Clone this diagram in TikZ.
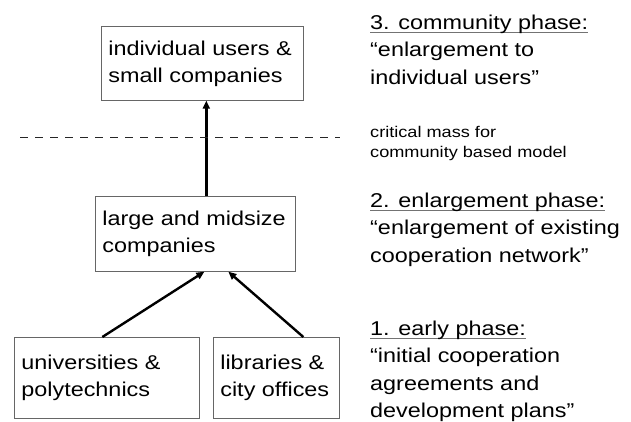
\documentclass[tikz,border=0pt]{standalone}
\usepackage{fontspec}
\setmainfont[FakeStretch=1.17]{Liberation Sans}
\usetikzlibrary{arrows.meta,positioning}
% underlined phase heading, rule just below the baseline
\newsavebox\headbox
\newcommand\phasehead[1]{\sbox\headbox{#1}\rlap{\color{black!55}\rule[-3pt]{\wd\headbox}{0.8pt}}\usebox\headbox}

\begin{document}
\begin{tikzpicture}[x=1pt,y=1pt,font=\fontsize{20}{27.5}\selectfont,
 u/.style={draw=black!60,line width=.7pt,anchor=north west,inner xsep=7pt,inner ysep=0pt,align=flush left,font=\fontsize{20}{27}\selectfont},
 ph/.style={anchor=north west,inner sep=0pt,align=left},
 up/.style={-{Triangle[length=8pt,width=7pt]},line width=2.4pt}]
\useasboundingbox (0,0) rectangle (631,-421);
% cooperation partners
\node[u,text width=188pt,minimum height=74pt] (top) at (101,-26) {individual users \&\\small companies};
\node[u,text width=186pt,minimum height=75pt] (mid) at (95,-196) {large and midsize\\companies};
\node[u,text width=171pt,minimum height=81pt] (uni) at (14,-337) {universities \&\\polytechnics};
\node[u,text width=112pt,minimum height=81pt] (lib) at (213,-337) {libraries \&\\city offices};
\draw[up] ([xshift=-4.5pt]uni.north) -- ([xshift=9pt]mid.south);
\draw[up] ([xshift=27pt]lib.north) -- ([xshift=33pt]mid.south);
\draw[up] ([xshift=11pt]mid.north) -- ([xshift=4pt]top.south);
% threshold
\coordinate (cutl) at (20,-137);
\coordinate (cutr) at (340,-137);
\draw[black!85,line width=1pt,dash pattern=on 8pt off 7pt] (cutl) -- (cutr);
% phases
\node[ph] (p3) at (370,-14.7) {\phasehead{3. community phase:}\\“enlargement to\\individual users”};
\node[ph,font=\fontsize{15.5}{20}\selectfont] (cm) at (370,-126) {critical mass for\\community based model};
\node[ph] (p2) at (370,-192.7) {\phasehead{2. enlargement phase:}\\“enlargement of existing\\cooperation network”};
\node[ph] (p1) at (370,-320.7) {\phasehead{1. early phase:}\\“initial cooperation\\agreements and\\development plans”};
\end{tikzpicture}
\end{document}
